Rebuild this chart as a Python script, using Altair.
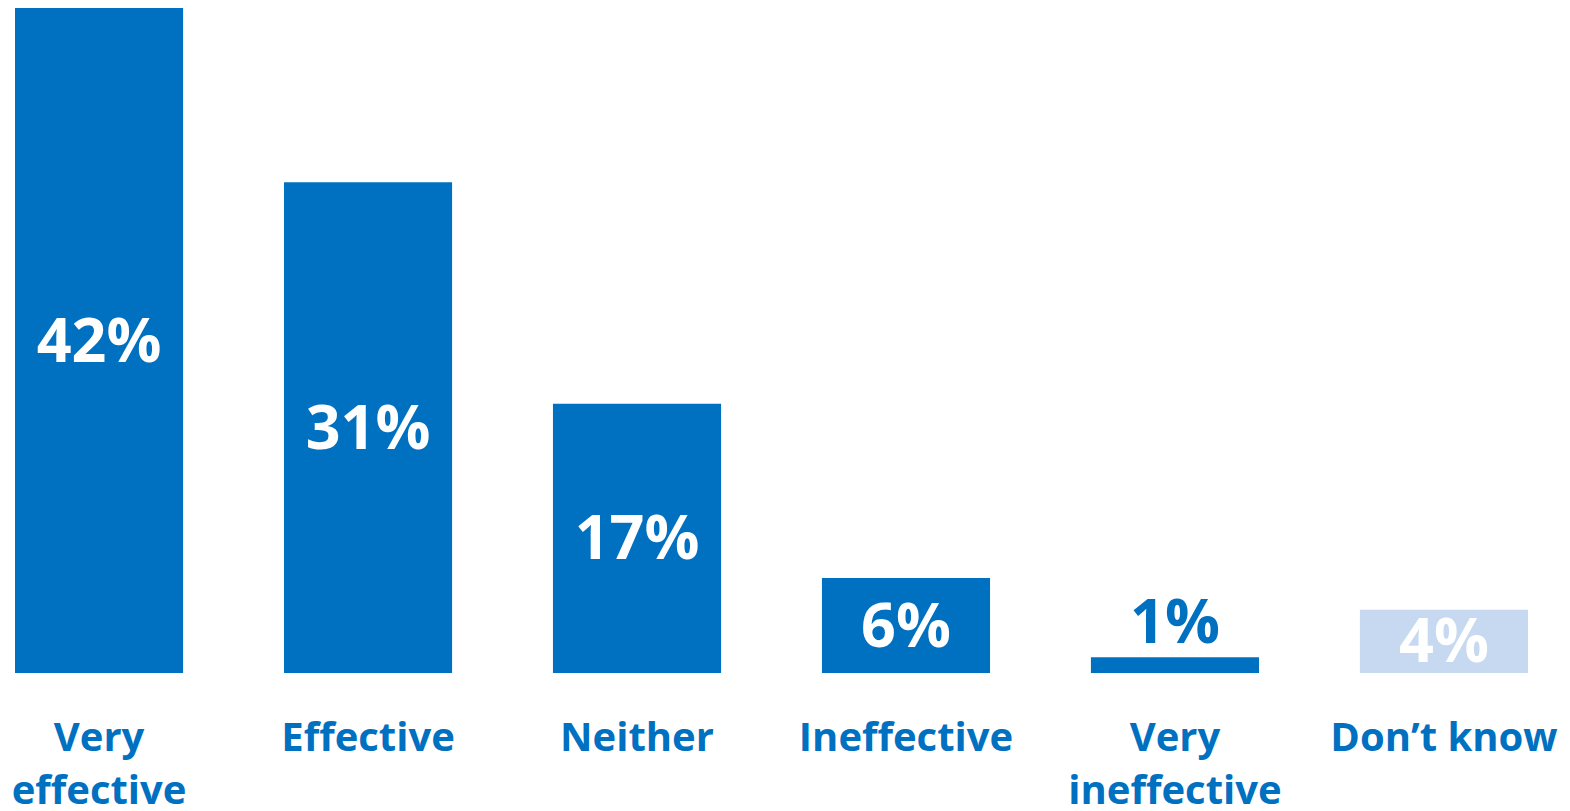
import altair as alt
import pandas as pd

categories = ["Very effective", "Effective", "Neither", "Ineffective", "Very ineffective", "Don’t know"]
values = [42, 31, 17, 6, 1, 4]
labels = ["42%", "31%", "17%", "6%", "1%", "4%"]
kinds = ["main", "main", "main", "main", "main", "dk"]

df = pd.DataFrame({"cat": categories, "value": values, "label": labels, "kind": kinds})

BLUE = "#0070C0"
LIGHT = "#C6D9F1"
FONT = "Open Sans"

x = alt.X("cat:N", sort=categories,
          scale=alt.Scale(paddingInner=0.375, paddingOuter=0.026),
          axis=alt.Axis(title=None, labelAngle=0, ticks=False, domain=False, grid=False,
                        labelFont=FONT, labelFontSize=40, labelFontWeight="bold",
                        labelColor=BLUE, labelLineHeight=53, labelPadding=45,
                        labelLimit=400,
                        labelExpr="indexof(datum.value, 'Very ') == 0 ? split(datum.value, ' ') : datum.value"))
yscale = alt.Scale(domain=[0, 42], nice=False, zero=True)

bars = alt.Chart(df).mark_bar().encode(
    x=x,
    y=alt.Y("value:Q", scale=yscale, axis=None),
    color=alt.Color("kind:N", scale=alt.Scale(domain=["main", "dk"], range=[BLUE, LIGHT]), legend=None),
)

text = alt.Chart(df).transform_calculate(
    ly="datum.value < 2 ? datum.value + 2.2 : datum.value / 2",
    tc="datum.value < 2 ? 'blue' : 'white'",
).mark_text(font=FONT, fontSize=61, fontWeight="bold", baseline="middle", dy=3).encode(
    x=alt.X("cat:N", sort=categories),
    y=alt.Y("ly:Q", scale=yscale),
    text="label:N",
    color=alt.Color("tc:N", scale=alt.Scale(domain=["blue", "white"], range=[BLUE, "#FFFFFF"]), legend=None),
)

chart = alt.layer(bars, text).resolve_scale(color="independent").properties(
    width=1527, height=665, padding=0
).configure_view(stroke=None)

chart.save("out.html", embed_options={"renderer": "svg", "actions": False})
